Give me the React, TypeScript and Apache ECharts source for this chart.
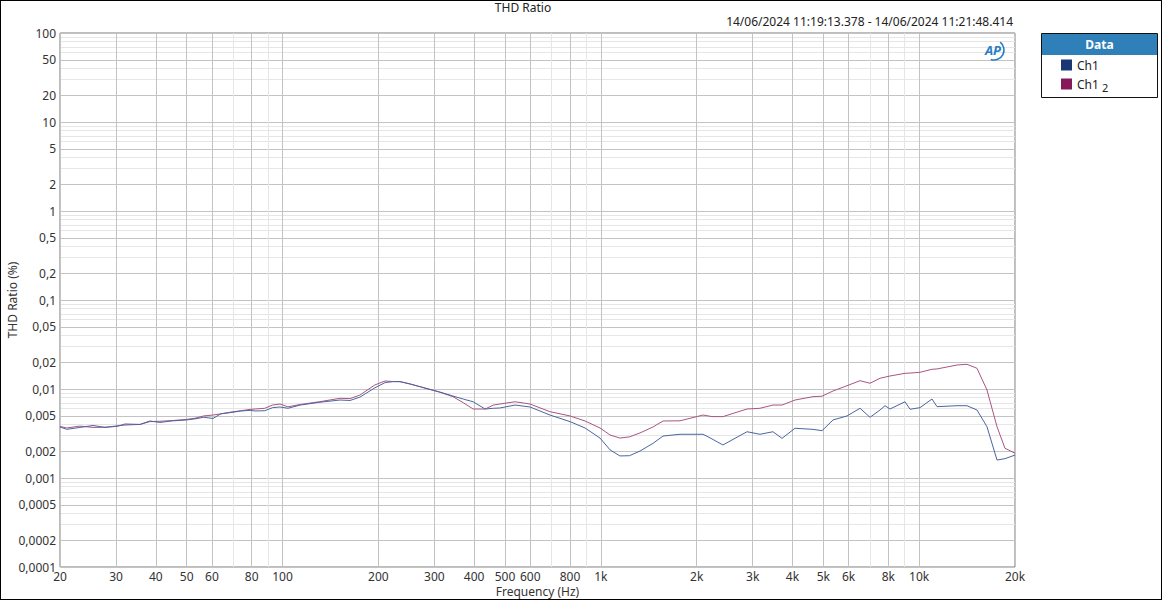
import React, { useEffect, useRef } from "react";
import * as echarts from "echarts";

// Frequency (Hz) sample points
const FREQ = [
  20, 21, 23.1, 25.4, 27.7, 30.2, 32, 35.7, 38.3, 41.2, 45, 50, 53.1, 56.5, 60.5, 64, 68.4, 74, 79.1, 82, 88, 93,
  98.2, 104, 113.7, 131, 151.6, 163, 175, 195, 210, 222, 234, 251.6, 312, 343, 370, 397, 433, 460, 482, 538, 599,
  692, 800, 892, 994, 1069, 1148, 1230, 1328, 1458, 1568, 1773, 2094, 2234, 2418, 2878, 3162, 3474, 3708, 4074,
  4640, 4952, 5364, 5934, 6520, 7008, 7534, 7812, 8100, 9028, 9360, 10060, 10970, 11380, 13150, 14130, 15190,
  16330, 17560, 18600, 20000,
];

// THD ratio (%) – Ch1
const CH1 = [
  0.00374, 0.00352, 0.0037, 0.00389, 0.0037, 0.00385, 0.00394, 0.004, 0.00437, 0.00421, 0.00438, 0.00449, 0.00462,
  0.00481, 0.00467, 0.00526, 0.00542, 0.00566, 0.00575, 0.00566, 0.0057, 0.00617, 0.00628, 0.00607, 0.0066, 0.0071,
  0.00752, 0.00743, 0.0081, 0.0103, 0.0118, 0.0121, 0.0121, 0.01138, 0.00925, 0.00834, 0.0077, 0.00719, 0.00596,
  0.00607, 0.00612, 0.0066, 0.00628, 0.0051, 0.0043, 0.00365, 0.00281, 0.00207, 0.00177, 0.00178, 0.00201, 0.00245,
  0.00296, 0.0031, 0.0031, 0.00275, 0.00235, 0.00331, 0.0031, 0.00331, 0.00279, 0.00362, 0.00352, 0.0034, 0.00449,
  0.00498, 0.00607, 0.00481, 0.00581, 0.00649, 0.00596, 0.00719, 0.00592, 0.00617, 0.00772, 0.00633, 0.00649,
  0.00649, 0.00581, 0.00377, 0.00159, 0.00165, 0.00181,
];

// THD ratio (%) – Ch1 2
const CH1_2 = [
  0.0038, 0.00365, 0.00383, 0.0037, 0.00372, 0.0038, 0.00405, 0.004, 0.0043, 0.00434, 0.00442, 0.00455, 0.00469,
  0.00498, 0.0051, 0.00526, 0.00548, 0.0057, 0.0059, 0.00596, 0.00607, 0.0066, 0.00678, 0.0063, 0.0067, 0.0072,
  0.00786, 0.0078, 0.00854, 0.0111, 0.0123, 0.01213, 0.0121, 0.0114, 0.0092, 0.0082, 0.007, 0.00596, 0.00596,
  0.0066, 0.00678, 0.00719, 0.00678, 0.00556, 0.00498, 0.00437, 0.00365, 0.00304, 0.00281, 0.0029, 0.00321,
  0.00374, 0.00437, 0.00439, 0.0051, 0.0049, 0.00489, 0.00596, 0.00607, 0.0066, 0.0066, 0.00752, 0.0082, 0.0083,
  0.0095, 0.01089, 0.0124, 0.0116, 0.0132, 0.0136, 0.014, 0.015, 0.0151, 0.0154, 0.01665, 0.0168, 0.0186, 0.01895,
  0.0171, 0.00975, 0.00377, 0.00216, 0.0019,
];

const X_LABELS = [20, 30, 40, 50, 60, 80, 100, 200, 300, 400, 500, 600, 800, 1000, 2000, 3000, 4000, 5000, 6000, 8000, 10000, 20000];
const Y_LABELS = [0.0001, 0.0002, 0.0005, 0.001, 0.002, 0.005, 0.01, 0.02, 0.05, 0.1, 0.2, 0.5, 1, 2, 5, 10, 20, 50, 100];
const MANTISSAS = [1, 2, 3, 4, 5, 6, 7, 8, 9];
const X_DECADES = [10, 100, 1000, 10000];
const Y_DECADES = [0.0001, 0.001, 0.01, 0.1, 1, 10, 100];

const round6 = (v: number) => Number(v.toPrecision(6));

const X_GRID: number[] = [];
X_DECADES.forEach((d) => MANTISSAS.forEach((m) => {
  const v = round6(m * d);
  if (v >= 20 && v <= 20000) X_GRID.push(v);
}));
const Y_GRID: number[] = [];
Y_DECADES.forEach((d) => MANTISSAS.forEach((m) => {
  const v = round6(m * d);
  if (v >= 0.0001 && v <= 100) Y_GRID.push(v);
}));

const MAJOR = "#c3c3c3";
const MINOR = "#e6e6e6";
const FONT = "'Segoe UI', 'Noto Sans', sans-serif";

export default function App() {
  const ref = useRef<HTMLDivElement>(null);

  useEffect(() => {
    document.body.style.margin = "0";
    if (!ref.current) return;
    const chart = echarts.init(ref.current, undefined, { renderer: "svg" });

    const xFmt = (v: number) => {
      const r = round6(v);
      return r >= 1000 ? `${round6(r / 1000)}k` : `${r}`;
    };
    const yFmt = (v: number) => `${round6(v)}`.replace(".", ",");

    const xLabelSet = new Set(X_LABELS.map(round6));
    const yLabelSet = new Set(Y_LABELS.map(round6));

    chart.setOption({
      animation: false,
      textStyle: { fontFamily: FONT },
      grid: {
        left: 60,
        top: 33,
        width: 955,
        height: 534,
        containLabel: false,
        outerBoundsMode: "none",
        show: true,
        borderColor: "#7a7a7a",
        borderWidth: 1,
        backgroundColor: "#fff",
      },
      xAxis: {
        type: "log",
        logBase: 10,
        min: 20,
        max: 20000,
        name: "Frequency (Hz)",
        nameLocation: "middle",
        nameGap: 18,
        nameMoveOverlap: false,
        nameTextStyle: { fontSize: 12, lineHeight: 12, color: "#333", fontFamily: FONT },
        axisLine: { show: false },
        axisTick: { show: false, customValues: X_GRID },
        axisLabel: {
          customValues: X_LABELS,
          formatter: xFmt,
          fontSize: 12,
          lineHeight: 12,
          color: "#333",
          margin: 3,
          fontFamily: FONT,
        },
        splitLine: {
          show: true,
          lineStyle: { width: 1, color: X_GRID.map((v) => (xLabelSet.has(v) ? MAJOR : MINOR)) },
        },
        minorTick: { show: false },
        minorSplitLine: { show: false },
      },
      yAxis: {
        type: "log",
        logBase: 10,
        min: 0.0001,
        max: 100,
        name: "THD Ratio (%)",
        nameLocation: "middle",
        nameGap: 42,
        nameMoveOverlap: false,
        nameRotate: 90,
        nameTextStyle: { fontSize: 12, color: "#333", fontFamily: FONT },
        axisLine: { show: false },
        axisTick: { show: false, customValues: Y_GRID },
        axisLabel: {
          customValues: Y_LABELS,
          formatter: yFmt,
          fontSize: 12,
          color: "#333",
          margin: 4,
          fontFamily: FONT,
        },
        splitLine: {
          show: true,
          lineStyle: { width: 1, color: Y_GRID.map((v) => (yLabelSet.has(v) ? MAJOR : MINOR)) },
        },
        minorTick: { show: false },
        minorSplitLine: { show: false },
      },
      legend: {
        orient: "vertical",
        left: 1061,
        top: 59,
        padding: 0,
        itemWidth: 11,
        itemHeight: 11,
        itemGap: 7,
        icon: "rect",
        textStyle: {
          fontSize: 12,
          color: "#222",
          fontFamily: FONT,
          rich: { s: { fontSize: 11, padding: [6, 0, 0, 0], fontFamily: FONT, color: "#222" } },
        },
        formatter: (name: string) => (name === "Ch1 2" ? "Ch1 {s|2}" : name),
        data: [
          { name: "Ch1", itemStyle: { color: "#1b3674" } },
          { name: "Ch1 2", itemStyle: { color: "#86195a" } },
        ],
      },
      series: [
        {
          name: "Ch1",
          type: "line",
          showSymbol: false,
          symbol: "none",
          color: "#4c64a0",
          lineStyle: { width: 1, color: "#4c64a0" },
          data: FREQ.map((f, i) => [f, CH1[i]]),
          z: 3,
        },
        {
          name: "Ch1 2",
          type: "line",
          showSymbol: false,
          symbol: "none",
          color: "#a8567f",
          lineStyle: { width: 1, color: "#a8567f" },
          data: FREQ.map((f, i) => [f, CH1_2[i]]),
          z: 2,
        },
      ],
      graphic: [
        {
          type: "text",
          x: 523,
          y: 7,
          style: { text: "THD Ratio", textAlign: "center", textVerticalAlign: "middle", fontSize: 12, fill: "#222", fontFamily: FONT },
        },
        {
          type: "text",
          x: 1013,
          y: 21,
          style: {
            text: "14/06/2024 11:19:13.378 - 14/06/2024 11:21:48.414",
            textAlign: "right",
            textVerticalAlign: "middle",
            fontSize: 12,
            fill: "#222",
            fontFamily: FONT,
          },
        },
        {
          type: "arc",
          shape: { cx: 994, cy: 50, r: 10, startAngle: -0.9, endAngle: 1.9 },
          style: { stroke: "#2c7cc4", lineWidth: 1.6, fill: "none" },
          z: 5,
        },
        {
          type: "text",
          x: 993,
          y: 50,
          style: {
            text: "AP",
            textAlign: "center",
            textVerticalAlign: "middle",
            fontSize: 13,
            fontWeight: "bold",
            fontStyle: "italic",
            fill: "#2c7cc4",
            fontFamily: FONT,
          },
          z: 5,
        },
        {
          type: "rect",
          shape: { x: 1041.5, y: 33.5, width: 116, height: 64 },
          style: { fill: "#fff", stroke: "#111", lineWidth: 1 },
          z: 0,
        },
        {
          type: "rect",
          shape: { x: 1042, y: 34, width: 115, height: 21 },
          style: { fill: "#2f80b9" },
          z: 1,
        },
        {
          type: "text",
          x: 1099.5,
          y: 44.5,
          style: {
            text: "Data",
            textAlign: "center",
            textVerticalAlign: "middle",
            fontSize: 12,
            fontWeight: "bold",
            fill: "#fff",
            fontFamily: FONT,
          },
          z: 2,
        },
      ],
    });

    return () => chart.dispose();
  }, []);

  return (
    <div style={{ position: "relative", width: 1162, height: 600 }}>
      <div ref={ref} style={{ width: 1162, height: 600 }} />
      <div
        style={{
          position: "absolute",
          left: 0,
          top: 0,
          width: 1162,
          height: 600,
          boxSizing: "border-box",
          border: "1px solid #000",
          pointerEvents: "none",
        }}
      />
    </div>
  );
}
